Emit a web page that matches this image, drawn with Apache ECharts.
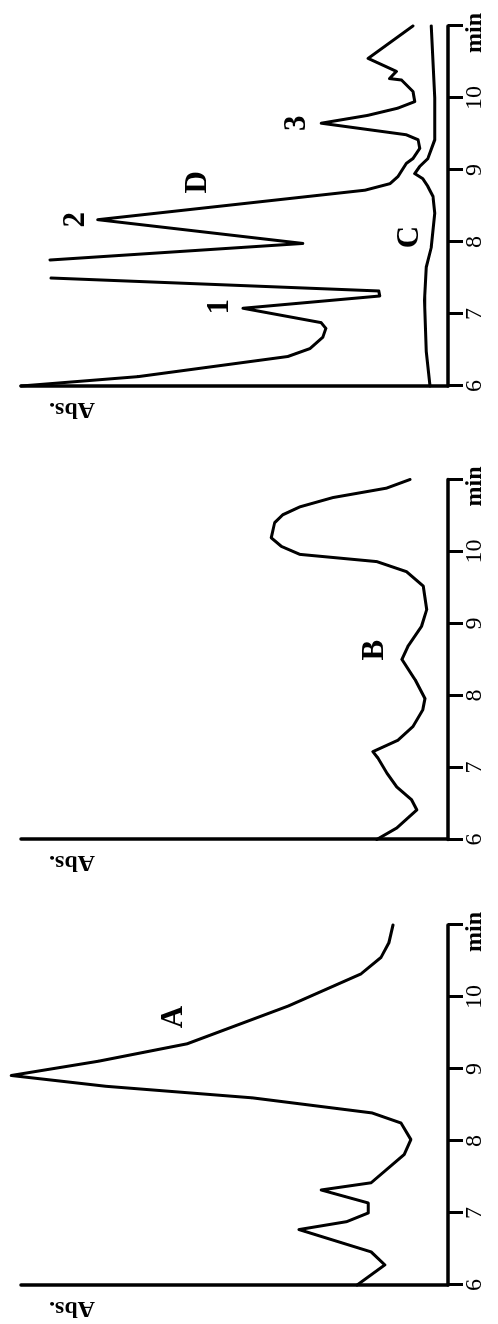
<!DOCTYPE html>
<html>
<head>
<meta charset="utf-8">
<script src="https://cdn.jsdelivr.net/npm/echarts@6/dist/echarts.min.js"></script>
<style>
  html, body { margin: 0; padding: 0; background: #fff; overflow: hidden; }
  /* the figure is drawn upright and turned a quarter turn, like the scanned page */
  #chart {
    position: absolute; left: 0; top: 0;
    width: 1324px; height: 498px;
    transform-origin: 0 0;
    transform: translate(0, 1324px) rotate(-90deg);
  }
</style>
</head>
<body>
<div id="chart"></div>
<script>
// time (min) vs absorbance
const timeLabels = ['6', '7', '8', '9', '10', 'min'];

const traceA = [
  [6.00, 21.3], [6.28, 14.8], [6.46, 18.0], [6.77, 34.9], [6.88, 23.7], [7.00, 18.7],
  [7.14, 18.7], [7.32, 29.7], [7.42, 18.0], [7.81, 10.3], [8.02, 8.7], [8.25, 11.0],
  [8.39, 17.8], [8.60, 45.9], [8.76, 80.1], [8.91, 102.3], [9.11, 81.7], [9.35, 61.1],
  [9.88, 37.2], [10.32, 20.4], [10.55, 15.7], [10.76, 13.8], [11.00, 12.9]
];

const traceB = [
  [6.00, 16.7], [6.16, 12.0], [6.41, 7.3], [6.55, 8.5], [6.73, 12.0], [6.92, 14.3],
  [7.13, 16.4], [7.22, 17.6], [7.38, 11.7], [7.57, 8.2], [7.80, 5.9], [7.96, 5.4],
  [8.22, 7.7], [8.50, 10.8], [8.68, 9.4], [8.96, 6.2], [9.19, 5.0], [9.52, 5.8],
  [9.72, 9.7], [9.86, 16.7], [9.96, 34.7], [10.07, 39.0], [10.19, 41.4], [10.40, 40.6],
  [10.51, 38.7], [10.62, 34.7], [10.75, 26.9], [10.88, 14.4], [11.00, 8.9]
];

const traceC = [
  [6.00, 4.2], [6.48, 5.1], [7.19, 5.5], [7.65, 5.1], [7.93, 3.9], [8.40, 3.1],
  [8.63, 3.5], [8.77, 4.7], [8.88, 5.9], [8.95, 7.8], [9.05, 6.6], [9.16, 4.7],
  [9.42, 3.1], [10.00, 3.1], [11.00, 3.9]
];

// the top of the big peak near 7.6 min is off the plotted range
const traceD = [
  [6.00, 100], [6.13, 72.6], [6.41, 37.5], [6.52, 32.3], [6.68, 29.3], [6.80, 28.6],
  [6.88, 29.7], [7.08, 48.0], [7.25, 16.0], [7.32, 16.2], [7.50, 93.0], [7.62, null],
  [7.75, 93.2], [7.98, 34.0], [8.31, 82.0], [8.72, 19.4], [8.81, 13.6], [8.91, 11.7],
  [9.09, 9.8], [9.16, 8.2], [9.30, 6.6], [9.42, 7.0], [9.49, 9.8], [9.65, 29.7],
  [9.76, 18.7], [9.86, 11.7], [9.95, 7.8], [10.09, 8.2], [10.25, 10.9], [10.27, 13.7],
  [10.37, 12.1], [10.55, 18.7], [11.00, 8.2]
];

const labelsA = [[9.72, 64.2, 'A']];
const labelsB = [[8.63, 17.1, 'B']];
const labelsCD = [
  [7.10, 53.4, '1'], [8.31, 87.1, '2'], [9.65, 35.4, '3'],
  [8.07, 8.9, 'C'], [8.83, 58.5, 'D']
];

const FONT = '"Liberation Serif", "Times New Roman", serif';
const panelLeft = [39, 484.5, 938];

const chart = echarts.init(document.getElementById('chart'));

function traceSeries(data, idx) {
  return {
    type: 'line',
    xAxisIndex: idx,
    yAxisIndex: idx,
    data: data,
    showSymbol: false,
    clip: false,
    connectNulls: false,
    lineStyle: { color: '#000', width: 3, cap: 'round', join: 'round' },
    silent: true
  };
}

// peak letters / numbers, hung on invisible points
function labelSeries(data, idx) {
  return {
    type: 'scatter',
    xAxisIndex: idx,
    yAxisIndex: idx,
    data: data,
    symbolSize: 1,
    itemStyle: { color: 'rgba(0,0,0,0)' },
    clip: false,
    silent: true,
    label: {
      show: true,
      position: 'inside',
      formatter: (p) => p.value[2],
      color: '#000',
      opacity: 1,
      textBorderWidth: 0,
      textBorderColor: 'transparent',
      fontFamily: FONT,
      fontWeight: 'bold',
      fontSize: 31
    }
  };
}

const option = {
  animation: false,
  backgroundColor: '#fff',
  grid: panelLeft.map(l => ({ left: l, width: 360, top: 21, height: 427 })),
  xAxis: panelLeft.map((_, i) => ({
    type: 'value',
    gridIndex: i,
    min: 6,
    max: 11,
    interval: 1,
    axisLine: { show: true, onZero: false, lineStyle: { color: '#000', width: 3.5 } },
    axisTick: { show: true, length: 15, lineStyle: { color: '#000', width: 3 } },
    axisLabel: {
      margin: 15,
      color: '#000',
      fontFamily: FONT,
      fontSize: 24,
      formatter: (v) => {
        const t = timeLabels[Math.round(v) - 6];
        return t === 'min' ? '{m|min}' : t;
      },
      rich: {
        m: { fontFamily: FONT, fontSize: 24, fontWeight: 'bold', color: '#000', padding: [0, 14, 0, 0] }
      }
    },
    splitLine: { show: false }
  })),
  yAxis: panelLeft.map((_, i) => ({
    type: 'value',
    gridIndex: i,
    min: 0,
    max: 100,
    axisLine: { show: true, onZero: false, lineStyle: { color: '#000', width: 3.5 } },
    axisTick: { show: false },
    axisLabel: { show: false },
    splitLine: { show: false }
  })),
  graphic: panelLeft.map(l => ({
    type: 'text',
    x: l - 23,
    y: 72,
    rotation: Math.PI / 2,
    silent: true,
    style: {
      text: 'Abs.',
      font: 'bold 24px ' + FONT,
      fill: '#000',
      align: 'center',
      verticalAlign: 'middle',
      textAlign: 'center',
      textVerticalAlign: 'middle'
    }
  })),
  series: [
    traceSeries(traceA, 0),
    traceSeries(traceB, 1),
    traceSeries(traceC, 2),
    traceSeries(traceD, 2),
    labelSeries(labelsA, 0),
    labelSeries(labelsB, 1),
    labelSeries(labelsCD, 2)
  ]
};

chart.setOption(option);
</script>
</body>
</html>
